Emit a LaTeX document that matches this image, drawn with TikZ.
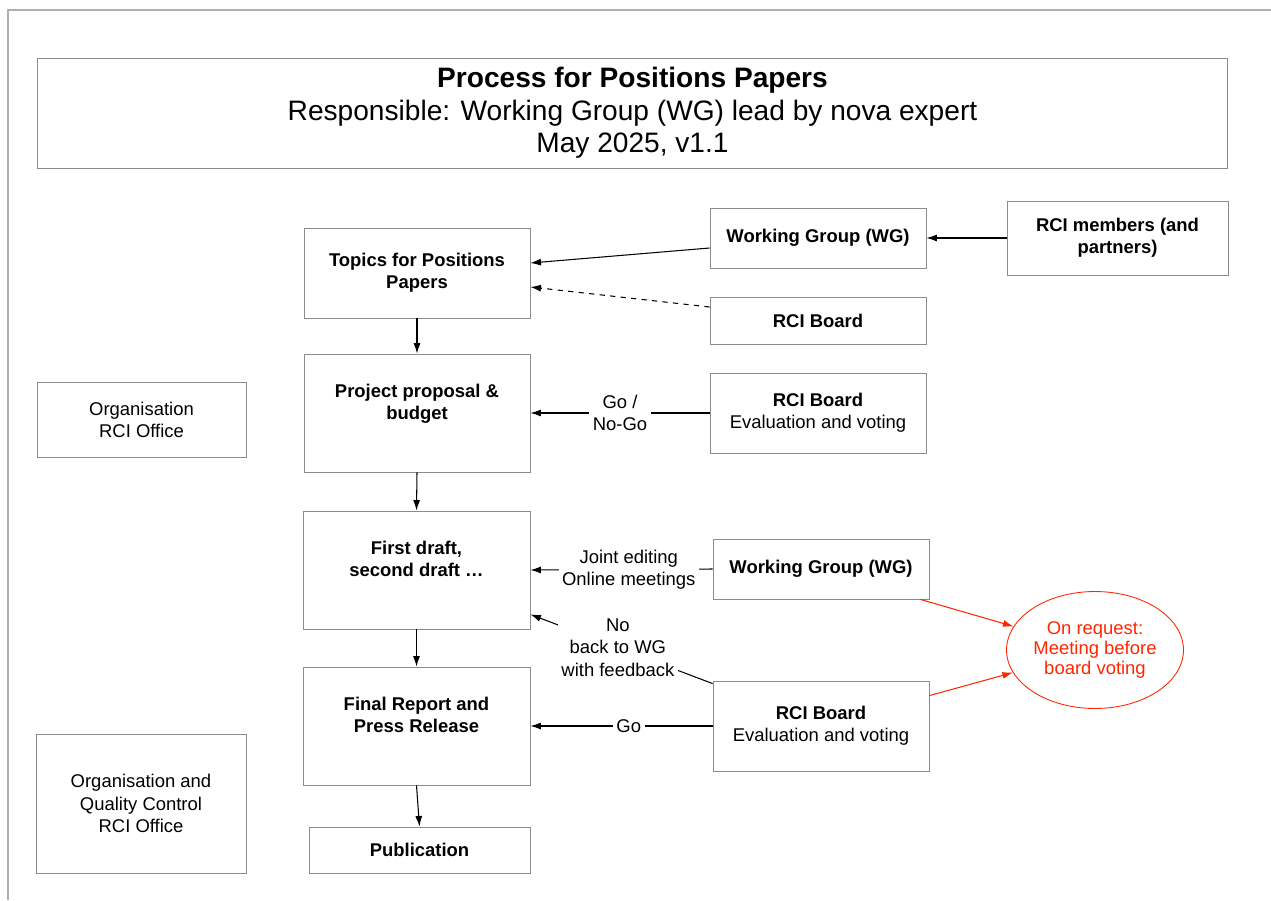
\documentclass[tikz,border=0pt]{standalone}
\usepackage{fontspec}
\setmainfont{Liberation Sans}
\usetikzlibrary{arrows.meta, shapes.geometric}
\definecolor{boxgray}{RGB}{140,140,140}
\definecolor{framegray}{RGB}{175,175,175}
\definecolor{noteRed}{RGB}{255,38,0}
\tikzset{
    %Define style for boxes
    box/.style={
           rectangle,
           draw=boxgray, line width=.5pt,
           inner sep=0pt,
           align=center,
           font=\fontsize{10.5}{12.6}\selectfont},
 %
    stepbox/.style={
           box,
           font=\fontsize{10.5}{12.6}\selectfont\bfseries},
 %
    titlebox/.style={
           box,
           font=\fontsize{16}{18.5}\selectfont},
 %
    notebox/.style={
           ellipse,
           draw=noteRed, line width=.5pt,
           text=noteRed,
           inner sep=0pt,
           align=center,
           font=\fontsize{10.5}{11.5}\selectfont},
 %
    % Define arrow style
    arrow/.style={
           ->,
           line width=.6pt},
    redarrow/.style={
           arrow,
           draw=noteRed},
    edgelabel/.style={
           fill=white,
           inner sep=2pt,
           align=center,
           font=\fontsize{10.5}{12.6}\selectfont}
}
\begin{document}
\begin{tikzpicture}[x=0.02cm, y=-0.02cm, >={Latex[length=6pt,width=4pt]}]
  \useasboundingbox (0,0) rectangle (1271,900);
  % page outline
  \draw[framegray, line width=.6pt] (8,900) -- (8,10) -- (1271,10);

  \node[titlebox, minimum width=23.82cm, minimum height=2.2cm] (title) at (632.5,113)
    {\textbf{Process for Positions Papers}\\Responsible: Working Group (WG) lead by nova expert\\May 2025, v1.1};

  % main steps
  \node[stepbox, minimum width=4.52cm, minimum height=1.8cm] (topics) at (417,273) {Topics for Positions\\Papers};
  \node[stepbox, minimum width=4.52cm, minimum height=2.36cm] (proposal) at (417,413) {Project proposal \&\\budget\\ \mbox{}};
  \node[stepbox, minimum width=4.54cm, minimum height=2.36cm] (draft) at (416.5,570) {First draft,\\second draft …\\ \mbox{}};
  \node[stepbox, minimum width=4.54cm, minimum height=2.36cm] (final) at (416.5,726) {Final Report and\\Press Release\\ \mbox{}};
  \node[stepbox, minimum width=4.42cm, minimum height=0.92cm] (publication) at (419.5,850) {Publication};

  % office
  \node[box, minimum width=4.18cm, minimum height=1.5cm] (office) at (141.5,419.5) {Organisation\\RCI Office};
  \node[box, minimum width=4.2cm, minimum height=2.78cm] (quality) at (141,803.5) {Organisation and\\Quality Control\\RCI Office};

  % actors
  \node[stepbox, minimum width=4.32cm, minimum height=1.2cm] (wgtop) at (818,238) {Working Group (WG)};
  \node[stepbox, minimum width=4.42cm, minimum height=1.48cm] (members) at (1117.5,238) {RCI members (and\\partners)};
  \node[stepbox, minimum width=4.32cm, minimum height=0.94cm] (boardtop) at (818,320.5) {RCI Board};
  \node[box, minimum width=4.32cm, minimum height=1.6cm] (vote1) at (818,413) {\textbf{RCI Board}\\Evaluation and voting};
  \node[stepbox, minimum width=4.32cm, minimum height=1.2cm] (wglow) at (821,569) {Working Group (WG)};
  \node[box, minimum width=4.32cm, minimum height=1.8cm] (vote2) at (821,726) {\textbf{RCI Board}\\Evaluation and voting};
  \node[notebox, minimum width=3.54cm, minimum height=2.34cm] (meet) at (1095,650) {On request:\\Meeting before\\board voting};

  % connectors
  \draw[arrow] (members.west) -- (wgtop.east);
  \draw[arrow] ([yshift=-0.2cm]wgtop.west) -- ([yshift=0.2cm]topics.east);
  \draw[arrow, dashed] ([yshift=0.27cm]boardtop.west) -- ([yshift=-0.28cm]topics.east);
  \draw[arrow] (topics.south) -- (proposal.north);
  \draw[arrow] (vote1.west) -- node[edgelabel] {Go /\\No-Go} (proposal.east);
  \draw[arrow] (proposal.south) -- (draft.north);
  \draw[arrow] (wglow.west) -- node[edgelabel, pos=0.46] {Joint editing\\Online meetings} (draft.east);
  \draw[arrow] ([yshift=-0.06cm]vote2.north west) -- node[edgelabel, pos=0.52] {No\\back to WG\\with feedback} ([yshift=0.3cm]draft.south east);
  \draw[arrow] (draft.south) -- (final.north);
  \draw[arrow] (vote2.west) -- node[edgelabel, pos=0.46] {Go} (final.east);
  \draw[arrow] (final.south) -- (publication.north);
  \draw[redarrow] ([xshift=-0.18cm]wglow.south east) -- (meet);
  \draw[redarrow] ([yshift=-0.3cm]vote2.north east) -- (meet);
\end{tikzpicture}
\end{document}
